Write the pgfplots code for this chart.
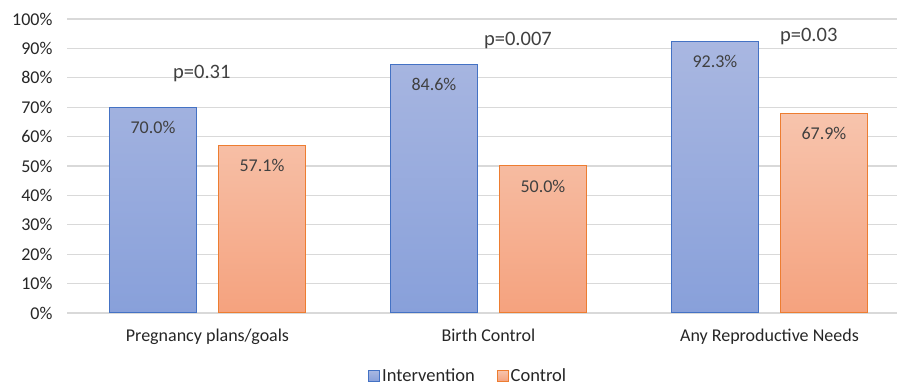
\documentclass[border=0pt]{standalone}
\usepackage{pgfplots}
\pgfplotsset{compat=1.18}
\usepackage{fontspec}
\setmainfont{Carlito}

\definecolor{bluebd}{HTML}{4472C4}
\definecolor{bluetop}{HTML}{A9B7E1}
\definecolor{bluebot}{HTML}{88A0DA}
\definecolor{orgbd}{HTML}{ED7D31}
\definecolor{orgtop}{HTML}{F7C4AD}
\definecolor{orgbot}{HTML}{F5A27E}
\definecolor{gridcol}{HTML}{D9D9D9}
\definecolor{labcol}{HTML}{404040}
\definecolor{tickcol}{HTML}{262626}

\begin{document}
\begin{tikzpicture}[x=1pt,y=1pt]
\useasboundingbox (0,0) rectangle (897,388);
\begin{axis}[
  at={(67pt,75pt)}, anchor=south west,
  scale only axis, width=830pt, height=294pt,
  xmin=-0.5, xmax=2.454, ymin=0, ymax=100,
  ybar=22pt, bar width=87pt,
  axis x line*=bottom, axis y line*=left,
  x axis line style={draw=gridcol, line width=1.2pt, -},
  y axis line style={draw=none},
  major tick length=0pt,
  ytick={0,10,...,100},
  yticklabel={\pgfmathprintnumber{\tick}\%},
  yticklabel style={font=\fontsize{18}{21}\selectfont, text=tickcol, xshift=-11pt},
  xtick={0,1,2},
  xticklabels={Pregnancy plans/goals, Birth Control, Any Reproductive Needs},
  xticklabel style={font=\fontsize{18}{21}\selectfont, text=tickcol, yshift=-12pt},
  /pgf/number format/assume math mode=true,
  ymajorgrids, grid style={gridcol, line width=1.2pt},
  clip=false,
  nodes near coords={\pgfmathprintnumber[fixed, fixed zerofill, precision=1]{\pgfplotspointmeta}\%},
  every node near coord/.append style={anchor=north, yshift=-10pt, font=\fontsize{18}{21}\selectfont, text=labcol},
  legend columns=2,
  legend style={at={(0.4835,-0.214)}, anchor=center, draw=none, fill=none,
    font=\fontsize{18.5}{22}\selectfont, text=tickcol,
    /tikz/every even column/.append style={column sep=20pt}},
  legend image code/.code={\draw[#1, line width=0.8pt] (0pt,-5.5pt) rectangle (11pt,5.5pt);},
]
\addplot[draw=bluebd, line width=1pt, top color=bluetop, bottom color=bluebot]
  coordinates {(0,70.0) (1,84.6) (2,92.3)};
\addplot[draw=orgbd, line width=1pt, top color=orgtop, bottom color=orgbot]
  coordinates {(0,57.1) (1,50.0) (2,67.9)};
\legend{Intervention, Control}

% significance annotations above each group
\node[font=\fontsize{20.5}{24}\selectfont, text=labcol] at (axis cs:-0.02,81.6) {p=0.31};
\node[font=\fontsize{20.5}{24}\selectfont, text=labcol] at (axis cs:1.105,92.6) {p=0.007};
\node[font=\fontsize{20.5}{24}\selectfont, text=labcol] at (axis cs:2.14,94.0) {p=0.03};
\end{axis}
\end{tikzpicture}
\end{document}
